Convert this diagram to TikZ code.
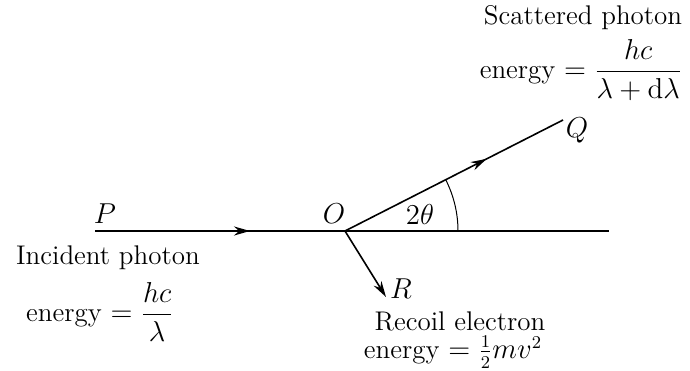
\documentclass[tikz,border=0pt]{standalone}
\usepackage{amsmath}
\usetikzlibrary{arrows.meta,decorations.markings,calc}

\begin{document}
\begin{tikzpicture}[
  x=0.5pt, y=0.5pt,
  every node/.style={font=\fontsize{13.5}{15}\selectfont, inner sep=0pt},
  ray/.style={line width=0.8pt, color=black},
  midarrow/.style={postaction={decorate}, decoration={markings, mark=at position #1 with {\arrow{Stealth[length=8pt,width=4.5pt]}}}},
  tip/.style={-{Stealth[length=8pt,width=4.5pt]}}
]
\useasboundingbox (0,0) rectangle (690,370);

% scattering point and ray ends
\coordinate (O) at (345,139);
\coordinate (start) at (95,139);
\coordinate (far) at (609,139);
\coordinate (Qend) at (563,250);
\coordinate (Rend) at (386,73);

% rays
\draw[ray, line width=1pt, midarrow=0.62] (start) -- (O);
\draw[ray] (O) -- (far);
\draw[ray, midarrow=0.65] (O) -- (Qend);
\draw[ray, tip] (O) -- (Rend);
\draw[ray, line width=0.5pt] ($(O)+(113,0)$) arc[start angle=0, end angle=27, radius=113];

% point labels
\node (P) at (105,156) {$P$};
\node (Olab) at (334,156) {$O$};
\node (Q) at (577,240) {$Q$};
\node (R) at (401,81) {$R$};
\node (ang) at (420,156) {$2\theta$};

% texts
\node (incident) at (108,112) {Incident photon};
\node (inenergy) at (100,58) {energy $=\dfrac{hc}{\lambda}$};
\node (scattered) at (583,352) {Scattered photon};
\node (scenergy) at (581,300) {energy $=\dfrac{hc}{\lambda+\mathrm{d}\lambda}$};
\node (recoil) at (460,49) {Recoil electron};
\node (reenergy) at (453,18) {energy $=\frac{1}{2}mv^2$};
\end{tikzpicture}
\end{document}
